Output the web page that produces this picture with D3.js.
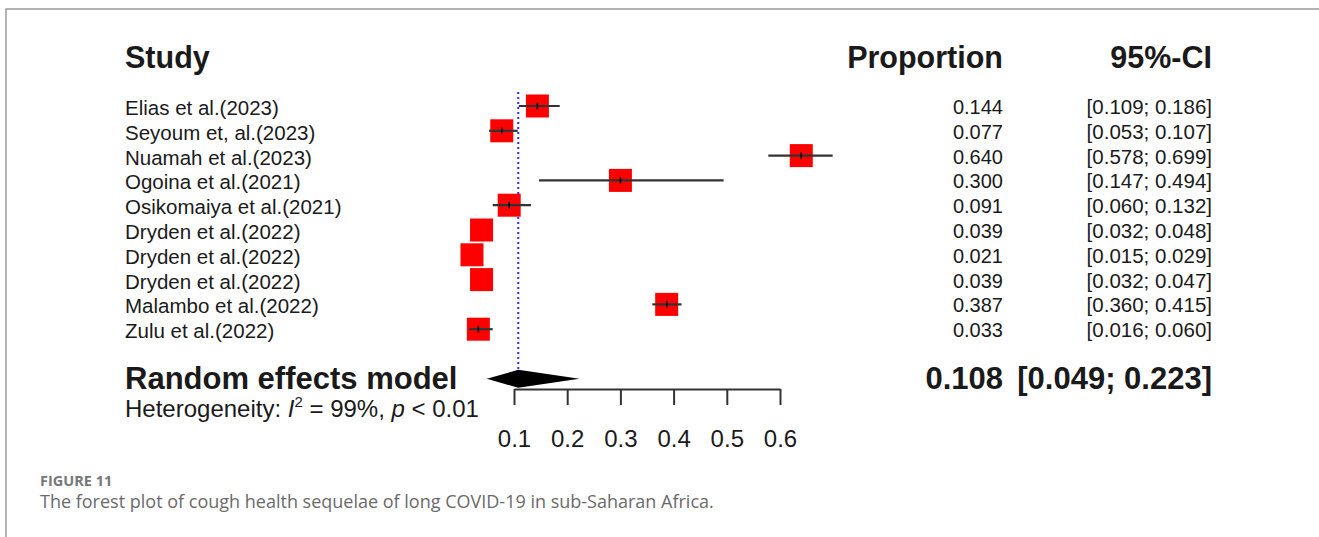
<!DOCTYPE html>
<html>
<head>
<meta charset="utf-8">
<script src="https://cdn.jsdelivr.net/npm/d3@7"></script>
<style>
	html, body { margin: 0; padding: 0; background: #fff; }
	svg { display: block; }
	text { font-family: "Liberation Sans", Arial, sans-serif; fill: #1a1a1a; }
	.caption { font-family: "Open Sans", Lato, sans-serif; fill: #6a6a6a; }
</style>
</head>
<body>
<svg id="chart" width="1319" height="537"></svg>
<script>
'use strict';

// study rows, top to bottom
var studies = [
	'Elias et al.(2023)',
	'Seyoum et, al.(2023)',
	'Nuamah et al.(2023)',
	'Ogoina et al.(2021)',
	'Osikomaiya et al.(2021)',
	'Dryden et al.(2022)',
	'Dryden et al.(2022)',
	'Dryden et al.(2022)',
	'Malambo et al.(2022)',
	'Zulu et al.(2022)'
];
var proportion = [0.144, 0.077, 0.640, 0.300, 0.091, 0.039, 0.021, 0.039, 0.387, 0.033];
var ciLower = [0.109, 0.053, 0.578, 0.147, 0.060, 0.032, 0.015, 0.032, 0.360, 0.016];
var ciUpper = [0.186, 0.107, 0.699, 0.494, 0.132, 0.048, 0.029, 0.047, 0.415, 0.060];

// random effects summary: estimate, lower, upper
var pooled = [0.108, 0.049, 0.223];
var heterogeneity = { i2: '99%', p: '< 0.01' };

var axisTicks = [0.1, 0.2, 0.3, 0.4, 0.5, 0.6];
var captionLabel = 'FIGURE 11';
var captionText = 'The forest plot of cough health sequelae of long COVID-19 in sub-Saharan Africa.';

var svg = d3.select('#chart');
var fmt = d3.format('.3f');

var x = d3.scaleLinear().domain([0.1, 0.6]).range([514, 780]);
// row index -> vertical centre
var row = d3.scaleLinear().domain([0, 1]).range([106, 130.8]);

var colLabel = 125;
var colProp = 1003;
var colCI = 1212;
var boxSize = 23;

// frame
svg.append('path')
	.attr('d', 'M6,537V9H1319')
	.attr('fill', 'none')
	.attr('stroke', '#9a9a9a')
	.attr('stroke-width', 1.5);

// headers
var header = svg.append('g')
	.style('font-weight', 'bold')
	.style('font-size', '30.5px');
header.append('text').attr('x', colLabel).attr('y', row(-2) + 12).text('Study');
header.append('text').attr('x', colProp).attr('y', row(-2) + 12)
	.attr('text-anchor', 'end').text('Proportion');
header.append('text').attr('x', colCI).attr('y', row(-2) + 12)
	.attr('text-anchor', 'end').text('95%-CI');

// reference line at pooled estimate
svg.append('line')
	.attr('x1', x(pooled[0])).attr('x2', x(pooled[0]))
	.attr('y1', row(0) - 14).attr('y2', row(11) - 9)
	.attr('stroke', '#2b2bff')
	.attr('stroke-width', 2)
	.attr('stroke-dasharray', '2,3');

var rows = svg.append('g').selectAll('g')
	.data(d3.range(studies.length))
	.join('g')
	.attr('transform', function(i) { return 'translate(0,' + row(i) + ')'; });

rows.append('text')
	.attr('x', colLabel)
	.attr('y', 9)
	.style('font-size', '20.5px')
	.text(function(i) { return studies[i]; });

rows.append('text')
	.attr('x', colProp)
	.attr('y', 8)
	.attr('text-anchor', 'end')
	.style('font-size', '20px')
	.text(function(i) { return fmt(proportion[i]); });

rows.append('text')
	.attr('x', colCI)
	.attr('y', 8)
	.attr('text-anchor', 'end')
	.style('font-size', '20.5px')
	.text(function(i) {
		return '[' + fmt(ciLower[i]) + '; ' + fmt(ciUpper[i]) + ']';
	});

rows.append('rect')
	.attr('x', function(i) { return x(proportion[i]) - boxSize / 2; })
	.attr('y', -boxSize / 2)
	.attr('width', boxSize)
	.attr('height', boxSize)
	.attr('fill', '#ff0000');

// CI line is left out when it fits inside the box
var shown = rows.filter(function(i) {
	var c = x(proportion[i]);
	return x(ciLower[i]) < c - boxSize / 2 || x(ciUpper[i]) > c + boxSize / 2;
});
shown.append('line')
	.attr('x1', function(i) { return x(ciLower[i]); })
	.attr('x2', function(i) { return x(ciUpper[i]); })
	.attr('stroke', '#333')
	.attr('stroke-width', 2.2);
shown.append('line')
	.attr('x1', function(i) { return x(proportion[i]); })
	.attr('x2', function(i) { return x(proportion[i]); })
	.attr('y1', -3.5)
	.attr('y2', 3.5)
	.attr('stroke', '#000')
	.attr('stroke-width', 1.5);

// summary row
var ySum = row(11);
var bold = svg.append('g')
	.style('font-weight', 'bold')
	.style('font-size', '31px');
bold.append('text')
	.attr('x', colLabel).attr('y', ySum + 10)
	.text('Random effects model');
bold.append('text')
	.attr('x', colProp).attr('y', ySum + 10)
	.attr('text-anchor', 'end')
	.text(fmt(pooled[0]));
bold.append('text')
	.attr('x', colCI).attr('y', ySum + 10)
	.attr('text-anchor', 'end')
	.text('[' + fmt(pooled[1]) + '; ' + fmt(pooled[2]) + ']');

svg.append('path')
	.attr('d', d3.line()([
		[x(pooled[1]), ySum],
		[x(pooled[0]), ySum - 9],
		[x(pooled[2]), ySum],
		[x(pooled[0]), ySum + 9]
	]) + 'Z')
	.attr('fill', '#000');

var het = svg.append('text')
	.attr('x', colLabel).attr('y', row(12) + 13)
	.style('font-size', '24px');
het.append('tspan').text('Heterogeneity: ');
het.append('tspan').style('font-style', 'italic').text('I');
het.append('tspan').attr('dy', -10).style('font-size', '15px').text('2');
het.append('tspan').attr('dy', 10).text(' = ' + heterogeneity.i2 + ', ');
het.append('tspan').style('font-style', 'italic').text('p');
het.append('tspan').text(' ' + heterogeneity.p);

// axis
var axis = svg.append('g')
	.attr('transform', 'translate(0,389)')
	.call(d3.axisBottom(x)
		.tickValues(axisTicks)
		.tickSize(16)
		.tickSizeOuter(0)
		.tickPadding(25)
		.tickFormat(d3.format('.1f')));
axis.select('.domain').attr('stroke', '#333').attr('stroke-width', 2);
axis.selectAll('.tick line').attr('stroke', '#333').attr('stroke-width', 2);
axis.selectAll('.tick text')
	.attr('fill', '#1a1a1a')
	.style('font-family', '"Liberation Sans", Arial, sans-serif')
	.style('font-size', '24px');

// caption
svg.append('text')
	.attr('class', 'caption')
	.attr('x', 40).attr('y', 486)
	.style('font-size', '14.5px')
	.style('font-weight', 'bold')
	.style('fill', '#777')
	.text(captionLabel);
svg.append('text')
	.attr('class', 'caption')
	.attr('x', 40).attr('y', 508)
	.style('font-size', '18px')
	.text(captionText);
</script>
</body>
</html>
